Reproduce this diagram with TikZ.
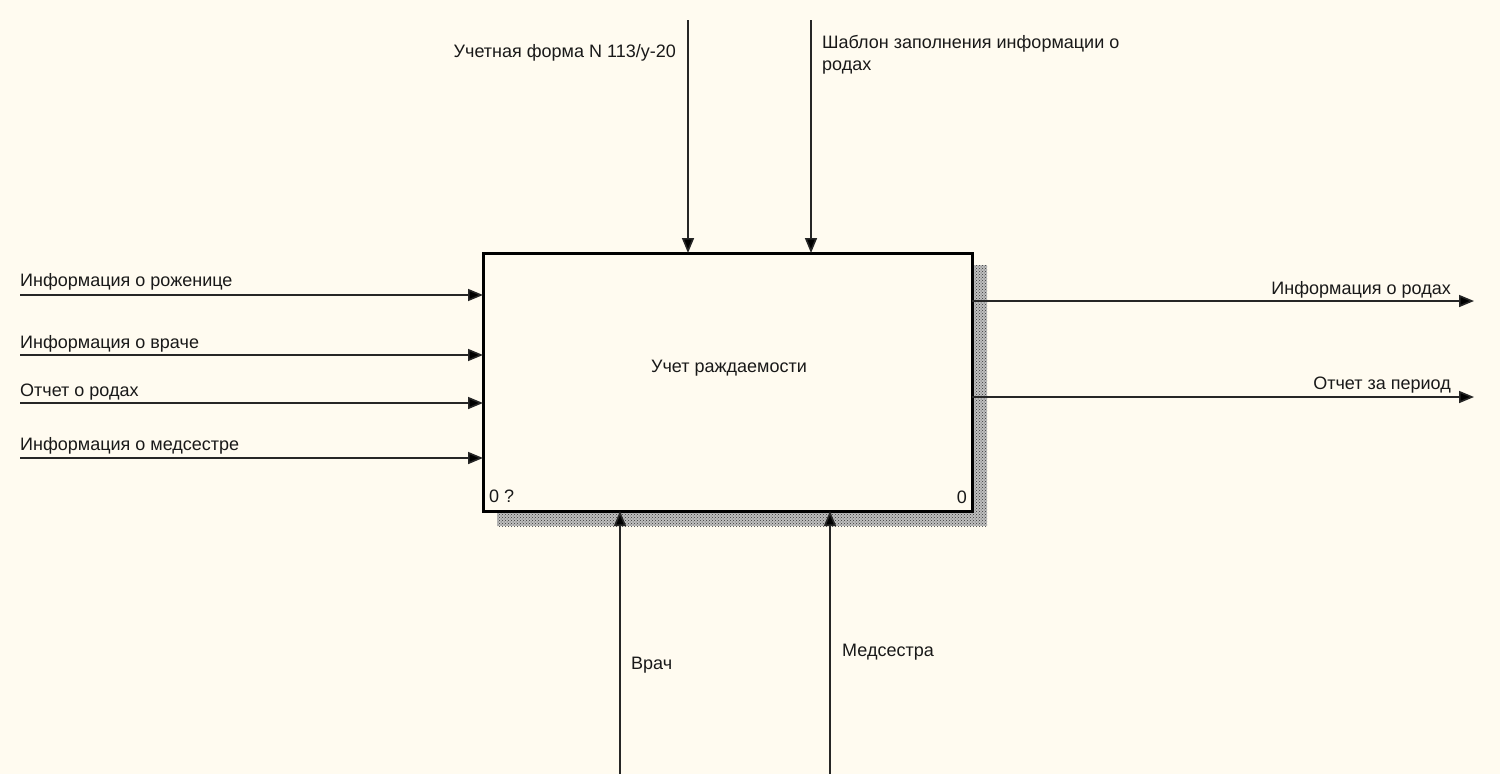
\documentclass[tikz,border=0pt]{standalone}
\usepackage{fontspec}
\setmainfont{Liberation Sans}
\usetikzlibrary{arrows.meta,patterns}
\definecolor{bg}{RGB}{255,251,240}
\tikzset{
  boxst/.style={draw=black, line width=3pt, fill=bg, inner sep=0pt, outer sep=0pt},
  arr/.style={line width=1.6pt, draw=black!85, -{Triangle[length=15pt,width=12pt,fill=black]}},
  lbl/.style={inner sep=0pt, font=\fontsize{18}{21}\selectfont, text=black!90},
  shadowst/.style={pattern=crosshatch dots, pattern color=black!80}
}
\begin{document}
\begin{tikzpicture}[x=1pt,y=-1pt]
\fill[bg] (0,0) rectangle (1500,774);
\useasboundingbox (0,0) rectangle (1500,774);
% shadow
\fill[black!25] (497,265) rectangle (987,526);
\fill[shadowst] (497,265) rectangle (987,526);
% main box
\node[boxst, anchor=north west, minimum width=489pt, minimum height=258pt] (box) at (483,253) {};
\node[lbl] (title) at (729,368) {Учет раждаемости};
\node[lbl, anchor=base west] (num1) at (489,502) {0 ?};
\node[lbl, anchor=base east] (num2) at (967,503) {0};
% inputs
\coordinate (i1) at (20,295);
\coordinate (i2) at (20,355);
\coordinate (i3) at (20,403);
\coordinate (i4) at (20,458);
\draw[arr] (i1) -- (i1 -| box.west);
\draw[arr] (i2) -- (i2 -| box.west);
\draw[arr] (i3) -- (i3 -| box.west);
\draw[arr] (i4) -- (i4 -| box.west);
\node[lbl, anchor=base west] (li1) at (20,286) {Информация о роженице};
\node[lbl, anchor=base west] (li2) at (20,348) {Информация о враче};
\node[lbl, anchor=base west] (li3) at (20,396) {Отчет о родах};
\node[lbl, anchor=base west] (li4) at (20,450) {Информация о медсестре};
% controls
\coordinate (c1) at (688,20);
\coordinate (c2) at (811,20);
\draw[arr] (c1) -- (c1 |- box.north);
\draw[arr] (c2) -- (c2 |- box.north);
\node[lbl, anchor=base east] (lc1) at (676,57) {Учетная форма N 113/у-20};
\node[lbl, anchor=base west] (lc2a) at (822,48) {Шаблон заполнения информации о};
\node[lbl, anchor=base west] (lc2b) at (822,70) {родах};
% outputs
\coordinate (o1) at (1474,301);
\coordinate (o2) at (1474,397);
\draw[arr] (o1 -| box.east) -- (o1);
\draw[arr] (o2 -| box.east) -- (o2);
\node[lbl, anchor=base east] (lo1) at (1451,294) {Информация о родах};
\node[lbl, anchor=base east] (lo2) at (1451,389) {Отчет за период};
% mechanisms
\coordinate (m1) at (620,774);
\coordinate (m2) at (830,774);
\draw[arr] (m1) -- (m1 |- box.south);
\draw[arr] (m2) -- (m2 |- box.south);
\node[lbl, anchor=base west] (lm1) at (631,669) {Врач};
\node[lbl, anchor=base west] (lm2) at (842,656) {Медсестра};
\end{tikzpicture}
\end{document}
